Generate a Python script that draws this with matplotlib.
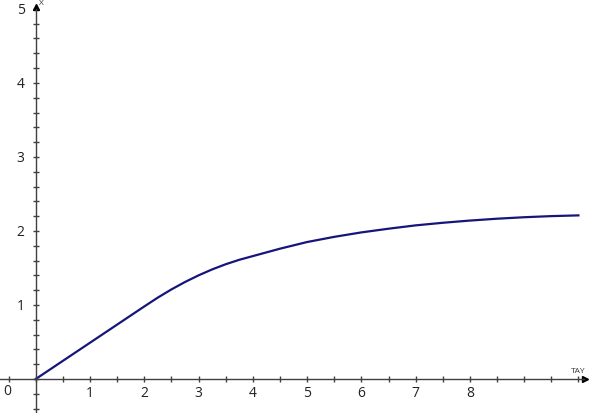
import numpy as np
import matplotlib
matplotlib.use("Agg")
import matplotlib.pyplot as plt
from matplotlib.ticker import FixedLocator, FuncFormatter

## Data ---------------------------------------------
tay = [0, 1, 2, 2.25, 2.5, 2.75, 3, 3.25, 3.5, 3.75, 4, 4.5, 5, 5.5, 6,
       6.5, 7, 7.5, 8, 8.5, 9, 9.5, 10]
x_vals = [0, 0.49, 0.98, 1.10, 1.21, 1.31, 1.40, 1.48, 1.55, 1.61, 1.66,
          1.76, 1.85, 1.92, 1.98, 2.03, 2.075, 2.11, 2.14, 2.165, 2.185,
          2.20, 2.21]
x_tick_labels = ["1", "2", "3", "4", "5", "6", "7", "8"]
y_tick_labels = ["1", "2", "3", "4", "5"]

## Figure -------------------------------------------
plt.rcParams["font.family"] = ["Open Sans", "DejaVu Sans"]
axis_col = "#404040"
text_col = "#222222"

fig = plt.figure(figsize=(6.05, 4.13), dpi=100)
ax = fig.add_axes([0, 0, 1, 1])
ax.set_xlim(-0.66, 10.49)
ax.set_ylim(-0.46, 5.12)

ax.plot(tay, x_vals, color="#16167a", lw=1.6, solid_joinstyle="round")

# axes through the origin
for s in ["top", "right"]:
    ax.spines[s].set_visible(False)
ax.spines["left"].set_position(("data", 0))
ax.spines["bottom"].set_position(("data", 0))
ax.spines["bottom"].set_bounds(-0.66, 10.1)
ax.spines["left"].set_bounds(-0.46, 5.0)
for s in ["left", "bottom"]:
    ax.spines[s].set_color(axis_col)
    ax.spines[s].set_linewidth(1)
ax.plot(10.12, 0, marker=">", color="black", ms=5, clip_on=False)
ax.plot(0, 5.03, marker="^", color="black", ms=5, clip_on=False)

# ticks
xt = np.arange(-0.5, 10.01, 0.5)
yt = np.arange(-0.4, 5.01, 0.2)
ax.xaxis.set_major_locator(FixedLocator(xt))
ax.yaxis.set_major_locator(FixedLocator(yt))

def fmt_x(v, pos):
    r = round(v)
    if abs(v - r) < 1e-6 and 1 <= r <= 8:
        return x_tick_labels[r - 1]
    return ""

def fmt_y(v, pos):
    r = round(v)
    if abs(v - r) < 1e-6 and 1 <= r <= 5:
        return y_tick_labels[r - 1]
    return ""

ax.xaxis.set_major_formatter(FuncFormatter(fmt_x))
ax.yaxis.set_major_formatter(FuncFormatter(fmt_y))
ax.tick_params(axis="both", direction="inout", length=4, width=1,
               color=axis_col, labelsize=10, labelcolor=text_col)
ax.tick_params(axis="x", pad=3)
ax.tick_params(axis="y", pad=6)

ax.text(-0.52, -0.17, "0", fontsize=10, color=text_col, ha="center", va="center")
ax.text(0.06, 5.07, "X", fontsize=6, color="#333333", ha="left", va="center")
ax.text(10.0, 0.1, "TAY", fontsize=6, color="#333333", ha="center", va="center")

fig.savefig("out.png", dpi=100)
